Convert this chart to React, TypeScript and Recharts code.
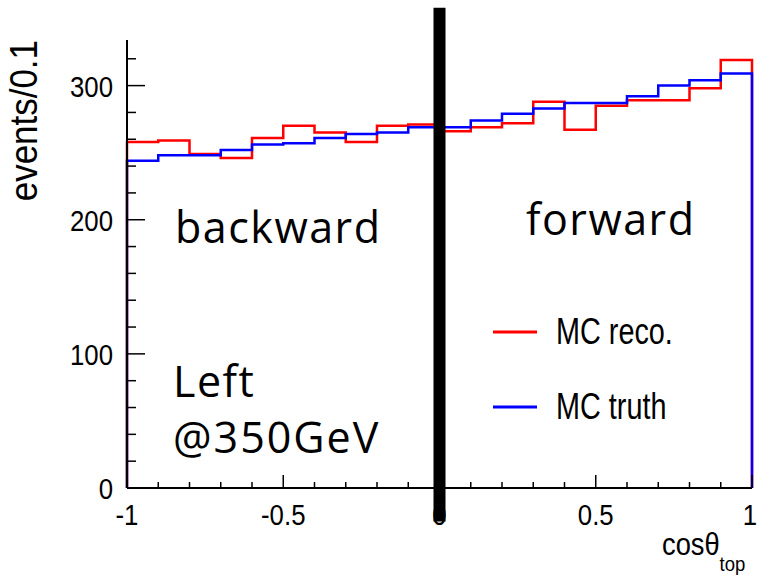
import { LineChart, Line, XAxis, YAxis, ReferenceLine, Legend } from "recharts";

// cos(theta_top) histogram, 20 bins of width 0.1 (lower edges)
const BIN_LOW = [-1, -0.9, -0.8, -0.7, -0.6, -0.5, -0.4, -0.3, -0.2, -0.1, 0, 0.1, 0.2, 0.3, 0.4, 0.5, 0.6, 0.7, 0.8, 0.9];
const X_MAX = 1;

// events per bin
const MC_RECO = [258, 259, 249, 246, 261, 270, 265, 258, 270, 271, 266, 269, 272, 288, 267, 285, 289, 289, 298, 319];
const MC_TRUTH = [244, 248, 248, 252, 256, 257, 261, 264, 265, 269, 269, 274, 279, 283, 287, 287, 292, 300, 304, 309];

const X_TICKS = [-1, -0.9, -0.8, -0.7, -0.6, -0.5, -0.4, -0.3, -0.2, -0.1, 0, 0.1, 0.2, 0.3, 0.4, 0.5, 0.6, 0.7, 0.8, 0.9, 1];
const X_LABELS = [-1, -0.5, 0, 0.5, 1];
const Y_TICKS = [0, 20, 40, 60, 80, 100, 120, 140, 160, 180, 200, 220, 240, 260, 280, 300, 320];
const Y_LABELS = [0, 100, 200, 300];
const Y_MAX = 334;

// step table: close the histogram down to zero on both edges, ROOT style
const histo = [
  { x: BIN_LOW[0], reco: 0, truth: 0 },
  ...BIN_LOW.map((x, i) => ({ x, reco: MC_RECO[i], truth: MC_TRUTH[i] })),
  { x: X_MAX, reco: MC_RECO[MC_RECO.length - 1], truth: MC_TRUTH[MC_TRUTH.length - 1] },
  { x: X_MAX, reco: 0, truth: 0 },
];

const HELV = "'Liberation Sans', Arial, sans-serif";
const SLIDE = "'Open Sans', 'Noto Sans', sans-serif";

const has = (list: number[], v: number) => list.some((l) => Math.abs(l - v) < 1e-9);

// condensed Helvetica look of the ROOT canvas
function Narrow({ x, y, size, anchor = "start", sx = 0.86, rotate = 0, children }: any) {
  return (
    <text
      transform={`translate(${x},${y}) rotate(${rotate}) scale(${sx},1)`}
      textAnchor={anchor}
      fontFamily={HELV}
      fontSize={size}
      fill="#000"
    >
      {children}
    </text>
  );
}

// ROOT draws ticks inside the frame, long ones on labelled values
function BottomTick({ x, y, payload }: any) {
  const v = payload.value;
  const major = has(X_LABELS, v);
  const last = Math.abs(v - X_MAX) < 1e-9;
  return (
    <g>
      <line x1={x} x2={x} y1={y} y2={y - (major ? 13 : 6)} stroke="#000" strokeWidth={1.5} />
      {major && (
        <Narrow x={last ? x + 5 : x} y={y + 37} size={30} anchor={last ? "end" : "middle"}>
          {String(v)}
        </Narrow>
      )}
    </g>
  );
}

function TopTick({ x, y, payload }: any) {
  const major = has(X_LABELS, payload.value);
  return <line x1={x} x2={x} y1={y} y2={y + (major ? 13 : 6)} stroke="#000" strokeWidth={1.5} />;
}

function LeftTick({ x, y, payload }: any) {
  const major = has(Y_LABELS, payload.value);
  return (
    <g>
      <line x1={x} x2={x + (major ? 18 : 9)} y1={y} y2={y} stroke="#000" strokeWidth={1.5} />
      {major && (
        <Narrow x={x - 14} y={y + 11} size={30} anchor="end">
          {String(payload.value)}
        </Narrow>
      )}
    </g>
  );
}

function RightTick({ x, y, payload }: any) {
  const major = has(Y_LABELS, payload.value);
  return <line x1={x} x2={x - (major ? 18 : 9)} y1={y} y2={y} stroke="#000" strokeWidth={1.5} />;
}

function HistLegend({ payload }: any) {
  return (
    <div>
      {(payload || []).map((p: any) => (
        <div key={p.value} style={{ display: "flex", alignItems: "center", height: 75 }}>
          <svg width={44} height={4} style={{ display: "block" }}>
            <line x1={0} x2={44} y1={2} y2={2} stroke={p.color} strokeWidth={3} />
          </svg>
          <span
            style={{
              marginLeft: 19,
              fontFamily: HELV,
              fontSize: 36,
              color: "#000",
              lineHeight: 1,
              display: "inline-block",
              transform: "scaleX(0.8)",
              transformOrigin: "left center",
            }}
          >
            {p.value}
          </span>
        </div>
      ))}
    </div>
  );
}

export default function App() {
  return (
    <div style={{ position: "relative", width: 758, height: 576, background: "#fff" }}>
      <style>{"body{margin:0}"}</style>
      <LineChart width={758} height={576} data={histo} margin={{ top: 40, right: 6, bottom: 0, left: 0 }}>
        <XAxis
          dataKey="x"
          type="number"
          domain={[-1, 1]}
          ticks={X_TICKS}
          interval={0}
          height={88}
          tickSize={0}
          tickMargin={0}
          tickLine={false}
          tick={<BottomTick />}
          axisLine={{ stroke: "#000", strokeWidth: 2 }}
        />
        <XAxis
          xAxisId="top"
          orientation="top"
          dataKey="x"
          type="number"
          domain={[-1, 1]}
          ticks={X_TICKS}
          interval={0}
          height={0}
          tickSize={0}
          tickMargin={0}
          tickLine={false}
          tick={<TopTick />}
          axisLine={{ stroke: "#000", strokeWidth: 2 }}
        />
        <YAxis
          type="number"
          domain={[0, Y_MAX]}
          ticks={Y_TICKS}
          interval={0}
          width={127}
          tickSize={0}
          tickMargin={0}
          tickLine={false}
          tick={<LeftTick />}
          axisLine={{ stroke: "#000", strokeWidth: 2 }}
        />
        <YAxis
          yAxisId="right"
          orientation="right"
          type="number"
          domain={[0, Y_MAX]}
          ticks={Y_TICKS}
          interval={0}
          width={0}
          tickSize={0}
          tickMargin={0}
          tickLine={false}
          tick={<RightTick />}
          axisLine={{ stroke: "#000", strokeWidth: 2 }}
        />
        <Legend
          layout="vertical"
          align="center"
          verticalAlign="middle"
          content={<HistLegend />}
          wrapperStyle={{ left: 493, top: 294, width: 220 }}
        />
        <Line
          name="MC reco."
          dataKey="reco"
          type="stepAfter"
          stroke="#ff0000"
          strokeWidth={2.5}
          dot={false}
          activeDot={false}
          isAnimationActive={false}
        />
        <Line
          name="MC truth"
          dataKey="truth"
          type="stepAfter"
          stroke="#0000ff"
          strokeWidth={2.5}
          dot={false}
          activeDot={false}
          isAnimationActive={false}
        />
        <ReferenceLine
          segment={[{ x: 0, y: -25 }, { x: 0, y: 358 }]}
          ifOverflow="visible"
          stroke="#000"
          strokeWidth={12}
        />
      </LineChart>
      <svg
        width={758}
        height={576}
        style={{ position: "absolute", left: 0, top: 0, pointerEvents: "none" }}
      >
        <Narrow x={37} y={40} size={38} anchor="end" rotate={-90} sx={0.92}>
          events/0.1
        </Narrow>
        <Narrow x={662} y={555} size={31} sx={0.88}>
          cosθ
          <tspan fontSize={21} dy={16}>
            top
          </tspan>
        </Narrow>
        <text x={175} y={243} fontFamily={SLIDE} fontSize={43} letterSpacing={1.5} fill="#000">
          backward
        </text>
        <text x={526} y={235} fontFamily={SLIDE} fontSize={43} letterSpacing={1.5} fill="#000">
          forward
        </text>
        <text x={173} y={397} fontFamily={SLIDE} fontSize={43} letterSpacing={1.5} fill="#000">
          Left
        </text>
        <text x={173} y={453} fontFamily={SLIDE} fontSize={43} letterSpacing={2} fill="#000">
          @350GeV
        </text>
      </svg>
    </div>
  );
}
